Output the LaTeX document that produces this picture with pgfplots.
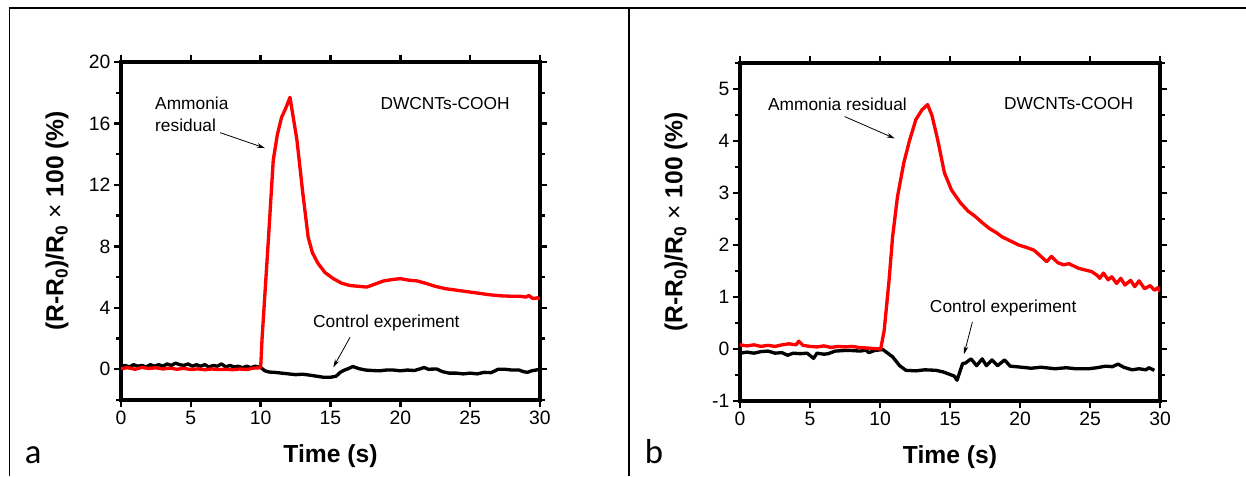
\documentclass[border=0pt]{standalone}
\usepackage{fontspec}
\setmainfont{Liberation Sans}
\newfontfamily\calibri{Carlito}
\usepackage{pgfplots}
\pgfplotsset{compat=1.18}
\usetikzlibrary{arrows.meta}

\pgfplotsset{
  panel/.style={
    scale only axis, anchor=south west,
    axis line style={line width=2.6pt},
    xmin=0, xmax=30, xtick={0,5,...,30},
    tick align=outside, major tick length=5.5pt, minor tick length=3.8pt,
    every tick/.style={black, line width=1.8pt},
    tick label style={font=\fontsize{14.5}{16}\selectfont},
    xticklabel style={yshift=1pt},
    yticklabel style={xshift=1pt},
    /pgf/number format/assume math mode=true,
    every axis x label/.style={at={(axis description cs:0.5,0)}, anchor=base, yshift=-46.5pt, font=\fontsize{18.5}{20}\selectfont\bfseries},
    every axis y label/.style={at={(axis description cs:-0.1527,0.53)}, rotate=90, anchor=center, font=\fontsize{18.5}{20}\selectfont\bfseries},
    xlabel={Time (s)},
    ylabel={(R-R\textsubscript{0})/R\textsubscript{0} {\mdseries ×} 100 (\%)},
  },
  redline/.style={red, line width=2.5pt, line join=round},
  blackline/.style={black, line width=2.5pt, line join=round},
}
\tikzset{
  annot/.style={font=\fontsize{13}{16.5}\selectfont, inner sep=0pt},
  arr/.style={-{Stealth[length=6pt,width=3.5pt]}, line width=0.6pt},
}

\begin{document}
\begin{tikzpicture}
\path[use as bounding box] (0,0) rectangle (934.5pt,357pt);
% panel frames
\draw[line width=1.4pt] (7.1pt,0) -- (7.1pt,351pt);
\draw[line width=1.4pt] (6.4pt,351pt) -- (934.5pt,351pt);
\draw[line width=1.4pt] (471.75pt,0) -- (471.75pt,351pt);
\node[anchor=base west, inner sep=0pt, font=\calibri\fontsize{26}{28}\selectfont] at (18.5pt,9.75pt) {a};
\node[anchor=base west, inner sep=0pt, font=\calibri\fontsize{26}{28}\selectfont] at (483.5pt,9.75pt) {b};

% ---------- panel a ----------
\begin{axis}[panel, at={(90.75pt,57pt)}, width=314.25pt, height=253.5pt,
  ymin=-2, ymax=20, ytick={0,4,...,20}, minor ytick={-2,2,6,10,14,18}]
\addplot[blackline] coordinates {
(0,0.2) (0.3,0.25) (0.6,0.15) (0.9,0.3) (1.2,0.2) (1.5,0.25) (1.8,0.15) (2.1,0.3)
(2.4,0.2) (2.7,0.3) (3.0,0.2) (3.3,0.35) (3.6,0.25) (3.9,0.4) (4.2,0.3) (4.5,0.25)
(4.8,0.35) (5.1,0.2) (5.4,0.3) (5.7,0.2) (6.0,0.3) (6.3,0.15) (6.6,0.25) (6.9,0.2)
(7.2,0.35) (7.5,0.15) (7.8,0.25) (8.1,0.15) (8.4,0.2) (8.7,0.1) (9.0,0.2) (9.3,0.1)
(9.6,0.2) (10.0,0.12) (10.3,-0.1) (10.6,-0.18) (11.0,-0.2) (11.5,-0.25) (12.0,-0.3)
(12.5,-0.35) (13.0,-0.32) (13.5,-0.38) (14.0,-0.45) (14.5,-0.52) (15.0,-0.52)
(15.4,-0.45) (15.7,-0.2) (16.0,-0.05) (16.3,0.05) (16.6,0.18) (17.0,0.05) (17.5,-0.05)
(18.0,-0.08) (18.5,-0.1) (19.0,-0.05) (19.5,-0.05) (20.0,-0.1) (20.5,-0.05) (21.0,-0.08)
(21.5,0.05) (21.7,0.12) (22.0,0.0) (22.6,0.02) (23.0,-0.15) (23.5,-0.25) (24.0,-0.25)
(24.5,-0.3) (25.0,-0.25) (25.5,-0.3) (26.0,-0.2) (26.5,-0.22) (27.0,0.0) (27.5,0.0)
(28.0,-0.05) (28.5,-0.05) (28.8,-0.15) (29.1,-0.2) (29.4,-0.1) (29.7,-0.05) (30.0,0.0)
};
\addplot[redline] coordinates {
(0,0.05) (0.5,0.1) (1,0.0) (1.5,0.12) (2,0.05) (2.5,0.1) (3,0.02) (3.5,0.08) (4,0.0)
(4.5,0.06) (5,-0.02) (5.5,0.03) (6,-0.03) (6.5,0.02) (7,-0.02) (7.5,0.0) (8,-0.03)
(8.5,0.02) (9,-0.02) (9.5,0.08) (10.0,0.1) (10.1,2.0) (10.55,8.4) (10.9,13.6)
(11.2,15.3) (11.5,16.4) (11.8,17.0) (12.1,17.7) (12.6,14.9) (13.0,11.6) (13.4,8.6)
(13.7,7.6) (14.1,6.9) (14.6,6.3) (15.2,5.9) (15.8,5.6) (16.4,5.45) (17.0,5.4) (17.6,5.35)
(18.2,5.55) (18.8,5.75) (19.5,5.85) (20.0,5.9) (20.6,5.8) (21.2,5.75) (21.8,5.6)
(22.5,5.4) (23.2,5.25) (24.0,5.15) (24.8,5.05) (25.6,4.95) (26.4,4.85) (27.2,4.78)
(28.0,4.75) (28.6,4.75) (29.0,4.7) (29.2,4.8) (29.5,4.6) (29.8,4.65) (30,4.6)
};
\node[annot] at (axis cs:23.2,17.3) {DWCNTs-COOH};
\node[annot, anchor=west, align=left] at (axis cs:2.43,16.6) {Ammonia\\residual};
\draw[arr] (axis cs:7.1,15.4) -- (axis cs:10.3,14.4);
\node[annot] at (axis cs:19.0,3.0) {Control experiment};
\draw[arr] (axis cs:16.4,2.08) -- (axis cs:15.2,0.13);
\end{axis}

% ---------- panel b ----------
\begin{axis}[panel, at={(555pt,56.25pt)}, width=315pt, height=253.5pt,
  ymin=-1, ymax=5.5, ytick={-1,0,...,5}, minor ytick={-0.5,0.5,...,5.5}]
\addplot[blackline] coordinates {
(0,-0.08) (0.5,-0.06) (1.0,-0.08) (1.5,-0.05) (2.0,-0.04) (2.5,-0.08) (3.0,-0.07)
(3.4,-0.12) (3.8,-0.08) (4.3,-0.09) (4.8,-0.08) (5.25,-0.18) (5.5,-0.08) (6.0,-0.1)
(6.3,-0.09) (6.8,-0.04) (7.4,-0.03) (8.0,-0.03) (8.6,-0.04) (9.0,-0.02) (9.2,-0.07)
(9.6,-0.03) (10.2,-0.01) (10.9,-0.15) (11.4,-0.32) (11.85,-0.41) (12.56,-0.42)
(13.2,-0.40) (14.0,-0.41) (14.5,-0.44) (14.9,-0.48) (15.3,-0.52) (15.5,-0.60)
(15.9,-0.28) (16.1,-0.27) (16.5,-0.19) (16.9,-0.32) (17.3,-0.19) (17.6,-0.32)
(18.0,-0.21) (18.4,-0.32) (18.9,-0.21) (19.3,-0.33) (20.1,-0.35) (20.8,-0.37)
(21.5,-0.35) (22.5,-0.38) (23.3,-0.36) (24.0,-0.38) (24.9,-0.38) (25.5,-0.36)
(26.1,-0.33) (26.6,-0.34) (27.0,-0.29) (27.4,-0.35) (28.0,-0.40) (28.5,-0.38)
(29.0,-0.40) (29.2,-0.36) (29.6,-0.41)
};
\addplot[redline] coordinates {
(0,0.08) (0.5,0.06) (1,0.08) (1.5,0.05) (2,0.07) (2.5,0.05) (3,0.08) (3.5,0.1)
(4.0,0.08) (4.2,0.15) (4.5,0.07) (5,0.05) (5.5,0.04) (6,0.06) (6.5,0.03) (7,0.05)
(7.5,0.04) (8,0.05) (8.5,0.03) (9,0.02) (9.5,0.01) (10.05,0.0) (10.3,0.36)
(10.65,1.33) (10.9,2.16) (11.25,2.93) (11.7,3.58) (12.1,4.0) (12.56,4.41) (13.0,4.6)
(13.4,4.7) (13.7,4.5) (14.1,4.05) (14.6,3.39) (15.1,3.06) (15.75,2.81) (16.3,2.65)
(16.8,2.55) (17.3,2.43) (17.8,2.32) (18.3,2.24) (18.7,2.16) (19.3,2.08) (19.9,2.0)
(20.5,1.95) (21.0,1.9) (21.5,1.78) (21.9,1.68) (22.25,1.78) (22.7,1.66) (23.1,1.62)
(23.5,1.64) (24.2,1.55) (25.1,1.49) (25.5,1.42) (25.7,1.36) (25.96,1.46) (26.3,1.33)
(26.55,1.39) (26.9,1.26) (27.2,1.36) (27.5,1.23) (27.9,1.32) (28.2,1.20) (28.5,1.31)
(28.9,1.16) (29.3,1.22) (29.6,1.13) (29.85,1.18) (30.0,1.1)
};
\node[annot] at (axis cs:23.47,4.72) {DWCNTs-COOH};
\node[annot] at (axis cs:6.96,4.70) {Ammonia residual};
\draw[arr] (axis cs:7.47,4.47) -- (axis cs:11.05,4.05);
\node[annot] at (axis cs:18.8,0.78) {Control experiment};
\draw[arr] (axis cs:16.6,0.52) -- (axis cs:16.0,-0.10);
\end{axis}
\end{tikzpicture}
\end{document}
